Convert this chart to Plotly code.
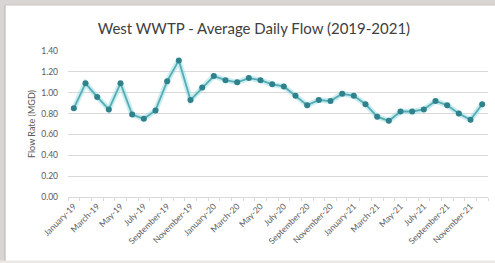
import plotly.graph_objects as go

months = ["January", "February", "March", "April", "May", "June", "July", "August",
          "September", "October", "November", "December"]
years = ["19", "20", "21"]
categories = [f"{m}-{y}" for y in years for m in months]

flow_mgd = [0.85, 1.09, 0.96, 0.84, 1.09, 0.79, 0.75, 0.83, 1.11, 1.31, 0.93, 1.05,
            1.16, 1.12, 1.10, 1.14, 1.12, 1.08, 1.06, 0.97, 0.88, 0.93, 0.92, 0.99,
            0.97, 0.89, 0.77, 0.73, 0.82, 0.82, 0.84, 0.92, 0.88, 0.80, 0.74, 0.89]

y_ticks = [0.0, 0.2, 0.4, 0.6, 0.8, 1.0, 1.2, 1.4]

x_idx = list(range(len(categories)))
label_idx = x_idx[::2]
label_text = [categories[i] for i in label_idx]

fig = go.Figure()
# soft glow under the line
fig.add_trace(go.Scatter(x=x_idx, y=flow_mgd, mode="lines",
                         line=dict(color="rgba(150,220,226,0.5)", width=5.5),
                         hoverinfo="skip", showlegend=False, cliponaxis=False))
fig.add_trace(go.Scatter(x=x_idx, y=flow_mgd, mode="lines+markers",
                         line=dict(color="#56acb5", width=1.8),
                         marker=dict(color="#2f828c", size=6),
                         showlegend=False, cliponaxis=False))

font_family = "Lato, 'Open Sans', sans-serif"
gray = "#d9d5d3"

fig.update_layout(
    width=495, height=263,
    paper_bgcolor="white",
    plot_bgcolor="white",
    margin=dict(l=68, r=7, t=51, b=66),
    title=dict(text="West WWTP - Average Daily Flow (2019-2021)",
               x=0.513, xanchor="center", y=0.89, yanchor="middle",
               font=dict(family=font_family, size=15, color="#404040")),
    shapes=[
        # gray backdrop strips along the top and left of the card
        dict(type="rect", xref="paper", yref="paper",
             x0=-0.2, x1=1.1, y0=1.315, y1=1.4,
             fillcolor=gray, line=dict(width=0), layer="below"),
        dict(type="rect", xref="paper", yref="paper",
             x0=-0.2, x1=-0.15, y0=-0.5, y1=1.4,
             fillcolor=gray, line=dict(width=0), layer="below"),
        dict(type="rect", xref="paper", yref="paper",
             x0=-0.2, x1=1.1, y0=-0.5, y1=-0.435,
             fillcolor="#ebe8e6", line=dict(width=0), layer="below"),
        dict(type="line", xref="paper", yref="paper",
             x0=-0.15, x1=-0.15, y0=-0.435, y1=1.315,
             line=dict(color="#b5b1af", width=1), layer="below"),
        dict(type="line", xref="paper", yref="paper",
             x0=-0.15, x1=1.1, y0=1.315, y1=1.315,
             line=dict(color="#c8c4c2", width=1), layer="below"),
    ],
    font=dict(family=font_family, color="#595959"),
)

fig.update_yaxes(range=[0, 1.4], tickvals=y_ticks, automargin=False,
                 ticktext=[f"{v:.2f}" for v in y_ticks],
                 tickfont=dict(size=8.5, color="#595959"),
                 showgrid=True, gridcolor="#d9d9d9", gridwidth=1,
                 zeroline=False, showline=False, ticks="", ticklabelstandoff=9,
                 title=dict(text="Flow Rate (MGD)", font=dict(size=9, color="#595959"),
                            standoff=4))

fig.update_xaxes(range=[-0.5, len(categories) - 0.5], automargin=False,
                 tickvals=label_idx, ticktext=label_text, tickangle=-45,
                 tickfont=dict(size=8.5, color="#595959"),
                 showgrid=False, zeroline=False,
                 showline=True, linecolor="#d9d9d9", linewidth=1,
                 ticks="",
                 minor=dict(tickvals=[i - 0.5 for i in range(len(categories) + 1)],
                            ticks="outside", ticklen=3, tickcolor="#d9d9d9"))

fig.write_html("out.html", config={"displayModeBar": False},
               post_script=("document.documentElement.style.overflow='hidden';"
                            "document.body.style.overflow='hidden';"
                            "document.body.style.margin='0';"))
